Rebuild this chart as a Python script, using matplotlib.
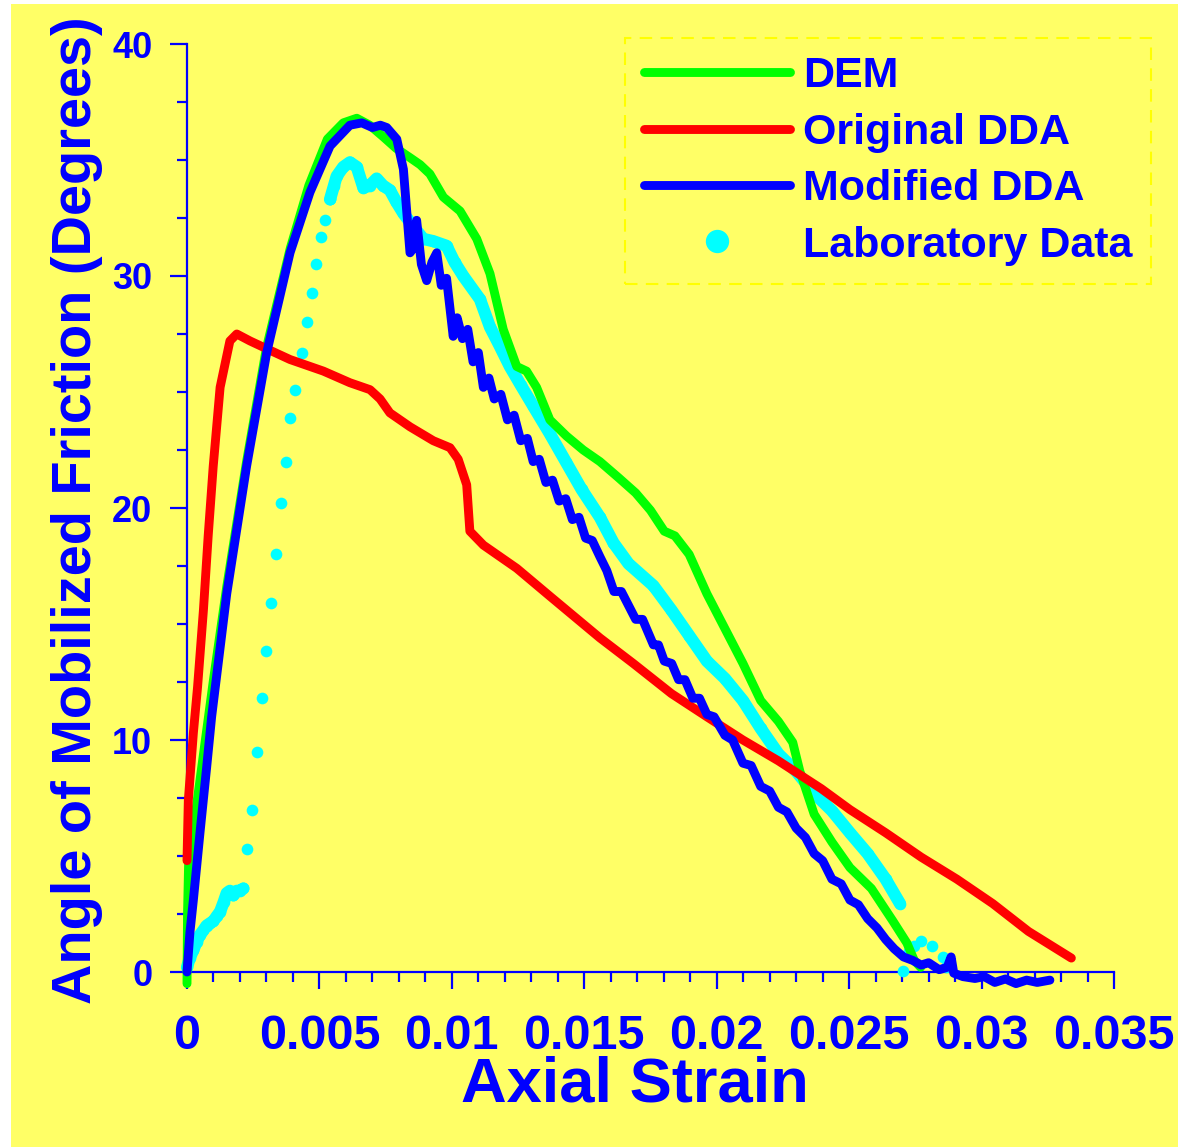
import matplotlib
matplotlib.use("Agg")
import matplotlib.pyplot as plt
import numpy as np
from matplotlib.patches import Rectangle
from matplotlib.ticker import MultipleLocator

# values (strain in units of 1e-3, angle in degrees)
dem_strain = [0.0, 0.02, 0.06, 0.4, 1.0, 1.5, 2.25, 3.0, 3.9, 4.6, 5.3, 5.9, 6.41, 6.9,
              7.41, 7.9, 8.42, 8.8, 9.17, 9.68, 10.31, 10.94, 11.44, 11.94, 12.45, 12.82,
              13.2, 13.7, 14.33, 14.96, 15.59, 16.3, 16.94, 17.5, 18.02, 18.42, 18.96,
              19.63, 20.31, 20.99, 21.66, 22.33, 22.87, 23.14, 23.68, 24.35, 25.03, 25.84,
              26.65, 27.18, 27.46, 27.7]
dem_angle = [-0.5, 2.5, 4.6, 7.5, 12.6, 16.6, 22.0, 26.9, 31.2, 33.9, 35.9, 36.6, 36.8, 36.5,
             36.0, 35.5, 35.1, 34.8, 34.4, 33.4, 32.8, 31.6, 30.1, 27.7, 26.1, 25.9,
             25.2, 23.8, 23.1, 22.5, 22.0, 21.3, 20.65, 19.9, 19.0, 18.8, 18.0,
             16.3, 14.8, 13.3, 11.7, 10.8, 9.9, 8.65, 6.8, 5.6, 4.5, 3.6,
             2.2, 1.25, 0.5, 0.2]

orig_strain = [0.0, 0.05, 0.24, 0.4, 0.62, 0.8, 0.99, 1.25, 1.62, 1.88, 2.38, 3.13, 3.89,
               5.15, 6.15, 6.91, 7.29, 7.66, 8.42, 9.3, 9.93, 10.24, 10.56, 10.68, 11.19,
               12.45, 13.7, 14.96, 15.59, 16.85, 18.29, 19.63, 20.99, 22.33, 23.95, 25.03,
               26.38, 27.72, 29.07, 30.42, 31.77, 33.39]
orig_angle = [4.8, 7.4, 10.3, 12.3, 15.6, 18.8, 21.8, 25.2, 27.2, 27.5, 27.2, 26.8, 26.4,
              25.9, 25.4, 25.1, 24.7, 24.1, 23.5, 22.9, 22.6, 22.1, 21.0, 19.0, 18.4,
              17.4, 16.2, 15.0, 14.4, 13.3, 12.0, 11.0, 10.0, 9.1, 7.9, 7.0,
              6.0, 4.95, 4.0, 2.95, 1.75, 0.6]

mod_strain = [0.0, 0.11, 0.24, 0.49, 0.74, 0.93, 1.5, 2.25, 3.01, 3.89, 4.64, 5.4, 6.15,
              6.6, 7.0, 7.3, 7.54, 7.92, 8.17, 8.42, 8.55, 8.67, 8.85, 9.05, 9.25, 9.43,
              9.6, 9.8, 10.05, 10.2, 10.4, 10.6, 10.8, 11.0, 11.19, 11.4, 11.6, 11.85,
              12.1, 12.35, 12.6, 12.85, 13.07, 13.3, 13.55, 13.8, 14.05, 14.3, 14.55, 14.8,
              15.05, 15.3, 15.59, 15.85, 16.12, 16.4, 16.94, 17.2, 17.61, 17.8, 18.02, 18.3,
              18.56, 18.8, 19.1, 19.35, 19.63, 19.9, 20.31, 20.6, 20.99, 21.3, 21.66, 22.0,
              22.33, 22.65, 23.0, 23.35, 23.68, 24.0, 24.35, 24.7, 25.03, 25.35, 25.7, 26.05,
              26.38, 26.7, 27.05, 27.4, 27.72, 28.0, 28.4, 28.7, 28.85, 28.95, 29.3, 29.75,
              30.1, 30.5, 30.9, 31.3, 31.7, 32.1, 32.58]
mod_angle = [0.0, 1.7, 3.1, 6.0, 8.8, 11.0, 16.3, 21.8, 26.7, 31.0, 33.6, 35.6, 36.5,
             36.6, 36.4, 36.5, 36.4, 35.9, 34.6, 31.0, 31.2, 32.4, 30.5, 29.8, 30.6, 31.0,
             29.6, 29.9, 27.4, 28.2, 27.3, 27.7, 26.3, 26.7, 25.2, 25.6, 24.7, 24.9,
             23.8, 24.0, 22.9, 23.0, 22.0, 22.1, 21.1, 21.2, 20.3, 20.4, 19.5, 19.6,
             18.7, 18.6, 17.9, 17.3, 16.4, 16.4, 15.2, 15.2, 14.1, 14.1, 13.4, 13.3,
             12.6, 12.6, 11.8, 11.8, 11.1, 11.0, 10.2, 10.0, 9.0, 8.9, 8.0, 7.8,
             7.1, 6.9, 6.2, 5.8, 5.1, 4.8, 4.0, 3.8, 3.1, 2.9, 2.3, 1.9,
             1.4, 1.0, 0.65, 0.5, 0.3, 0.4, 0.1, 0.2, 0.65, -0.05, -0.2, -0.28,
             -0.2, -0.45, -0.3, -0.5, -0.35, -0.45, -0.35]

# laboratory data: dense start, sparse rise, dense main branch, tail
lab_start_strain = [0.0, 0.1, 0.24, 0.36, 0.49, 0.62, 0.74, 0.87, 1.0, 1.12, 1.25, 1.38,
                    1.5, 1.62, 1.75, 1.88, 2.0, 2.13]
lab_start_angle = [0.2, 0.6, 0.95, 1.3, 1.6, 1.8, 2.0, 2.1, 2.2, 2.4, 2.6, 3.0,
                   3.4, 3.5, 3.3, 3.5, 3.5, 3.6]
lab_rise_strain = [2.25, 2.44, 2.63, 2.82, 2.99, 3.17, 3.36, 3.55, 3.73, 3.89, 4.08, 4.35,
                   4.52, 4.71, 4.86, 5.05, 5.21, 5.4]
lab_rise_angle = [5.3, 7.0, 9.5, 11.8, 13.85, 15.9, 18.0, 20.2, 22.0, 23.9, 25.1, 26.7,
                  28.0, 29.25, 30.5, 31.7, 32.4, 33.3]
lab_main_strain = [5.4, 5.55, 5.65, 5.9, 6.15, 6.41, 6.66, 6.9, 7.16, 7.4, 7.66, 7.9, 8.17,
                   8.5, 8.92, 9.3, 9.8, 10.1, 10.43, 11.06, 11.44, 11.8, 12.19, 12.6, 13.07,
                   13.7, 14.3, 14.9, 15.59, 16.1, 16.67, 17.61, 18.29, 18.96, 19.63, 20.31,
                   20.99, 21.66, 22.33, 23.0, 23.68, 24.35, 25.03, 25.7, 26.38, 26.92]
lab_main_angle = [33.3, 33.9, 34.3, 34.7, 34.9, 34.7, 33.8, 33.9, 34.2, 33.9, 33.7, 33.2, 32.7,
                  32.2, 31.6, 31.5, 31.3, 30.6, 30.0, 29.0, 27.8, 27.0, 26.1, 25.3, 24.4,
                  23.2, 22.0, 20.8, 19.6, 18.5, 17.6, 16.65, 15.6, 14.5, 13.4, 12.65,
                  11.7, 10.5, 9.4, 8.65, 7.7, 6.95, 6.0, 5.1, 4.0, 2.95]
lab_tail_strain = [27.05, 27.25, 27.46, 27.72, 28.13, 28.53, 28.67]
lab_tail_angle = [0.05, 0.9, 1.1, 1.35, 1.1, 0.65, 0.2]

x_ticks = [0, 0.005, 0.01, 0.015, 0.02, 0.025, 0.03, 0.035]
x_tick_labels = ["0", "0.005", "0.01", "0.015", "0.02", "0.025", "0.03", "0.035"]
y_ticks = [0, 10, 20, 30, 40]

BG = "#FFFF66"
INK = "#0000FF"
plt.rcParams["font.family"] = ["Liberation Sans", "DejaVu Sans"]
plt.rcParams["font.weight"] = "bold"
plt.rcParams["axes.labelweight"] = "bold"


def strain(v):
    return np.array(v) * 1e-3


W, H = 1181, 1147
fig = plt.figure(figsize=(W / 100, H / 100), dpi=100, facecolor="white")
fig.patches.append(Rectangle((11 / W, 0), (1178 - 11) / W, (H - 4) / H,
                             transform=fig.transFigure, facecolor=BG,
                             edgecolor="none", zorder=-10))
ax = fig.add_axes([187 / W, (H - 972) / H, 927 / W, 928 / H])
ax.set_facecolor(BG)

lw = 6.4
ms = 8.4
cyan = "#00FFFF"
for sx, sy in [(lab_start_strain, lab_start_angle), (lab_main_strain, lab_main_angle)]:
    ax.plot(strain(sx), sy, "-", color=cyan, lw=ms * 1.05, solid_capstyle="round",
            zorder=2, clip_on=False)
lab_x = strain(lab_start_strain + lab_rise_strain + lab_main_strain + lab_tail_strain)
lab_y = lab_start_angle + lab_rise_angle + lab_main_angle + lab_tail_angle
ax.plot(lab_x, lab_y, "o", color=cyan, ms=ms, mec="none", zorder=2,
        clip_on=False, label="Laboratory Data")

ax.plot(strain(dem_strain), dem_angle, color="#00FF00", lw=lw, zorder=3,
        solid_capstyle="round", solid_joinstyle="round", clip_on=False, label="DEM")
ax.plot(strain(orig_strain), orig_angle, color="#FF0000", lw=lw, zorder=4,
        solid_capstyle="round", solid_joinstyle="round", clip_on=False,
        label="Original DDA")
ax.plot(strain(mod_strain), mod_angle, color=INK, lw=lw, zorder=5,
        solid_capstyle="round", solid_joinstyle="round", clip_on=False,
        label="Modified DDA")

ax.set_xlim(0, 0.035)
ax.set_ylim(0, 40)
for side in ["top", "right"]:
    ax.spines[side].set_visible(False)
for side in ["left", "bottom"]:
    ax.spines[side].set_color(INK)
    ax.spines[side].set_linewidth(1.6)
    ax.spines[side].set_zorder(1)

ax.set_xticks(x_ticks, x_tick_labels)
ax.set_yticks(y_ticks)
ax.xaxis.set_minor_locator(MultipleLocator(0.001))
ax.yaxis.set_minor_locator(MultipleLocator(2.5))
ax.tick_params(which="both", direction="out", color=INK, width=1.6)
ax.tick_params(which="major", length=12)
ax.tick_params(which="minor", length=7)
ax.tick_params(axis="x", which="major", labelsize=35, labelcolor=INK, pad=18)
ax.tick_params(axis="y", which="major", labelsize=26, labelcolor=INK, pad=13)

ax.set_xlabel("Axial Strain", fontsize=45.5, color=INK, va="baseline")
ax.xaxis.set_label_coords(0.4833, -0.140)
ax.set_ylabel("Angle of Mobilized Friction (Degrees)", fontsize=40.3, color=INK,
              va="center")
ax.yaxis.set_label_coords(-0.1187, 0.498)

handles, labels = ax.get_legend_handles_labels()
order = ["DEM", "Original DDA", "Modified DDA", "Laboratory Data"]
hl = dict(zip(labels, handles))
leg = ax.legend([hl[k] for k in order], order, loc="upper left",
                bbox_to_anchor=(0.4725, 1.0065), borderaxespad=0, fontsize=31,
                handlelength=3.4, handletextpad=0.3, labelspacing=0.38,
                borderpad=0.43, markerscale=2.0, fancybox=False, framealpha=1,
                facecolor=BG, edgecolor="#FFFF00")
leg.get_frame().set_linestyle((0, (6, 4)))
leg.get_frame().set_linewidth(1.5)
for t in leg.get_texts():
    t.set_color(INK)

fig.savefig("out.png", dpi=100, facecolor=fig.get_facecolor())
